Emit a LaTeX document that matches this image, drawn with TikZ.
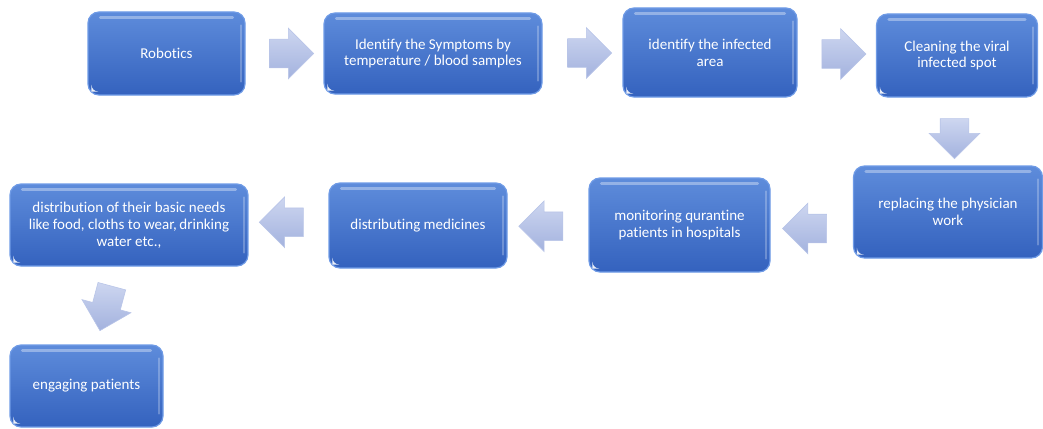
\documentclass[tikz,border=0pt]{standalone}
\usepackage{fontspec}
\setmainfont{Carlito}[Ligatures=NoCommon]
\usetikzlibrary{shapes.arrows,calc}
\definecolor{boxtop}{HTML}{5E8CDB}
\definecolor{boxmid}{HTML}{4674CA}
\definecolor{boxbot}{HTML}{3462BE}
\definecolor{boxrim}{HTML}{6F9BE6}
\definecolor{arrtop}{HTML}{CDD6F0}
\definecolor{arrbot}{HTML}{A3B2DE}
\definecolor{arredge}{HTML}{B9C5E8}
\tikzset{
  box/.style={rounded corners=11pt, draw=boxrim, line width=1.2pt,
    top color=boxtop, middle color=boxmid, bottom color=boxbot,
    text=white, align=center, inner sep=0pt,
    font=\fontsize{15}{16.8}\selectfont},
  blockarrow/.style={single arrow, single arrow head extend=11pt,
    inner xsep=0pt, inner ysep=14pt, minimum height=44pt,
    draw=arredge, line width=0.6pt, top color=arrtop, bottom color=arrbot}
}
\begin{document}
\begin{tikzpicture}[x=1pt,y=-1pt]
\useasboundingbox (0,0) rectangle (1043,428);
\node[box, minimum width=157pt, minimum height=83pt] (b1) at (166.5,53.5) {Robotics};
\node[box, minimum width=218pt, minimum height=81pt] (b2) at (433,53.5) {Identify the Symptoms by\\temperature / blood samples};
\node[box, minimum width=174pt, minimum height=89pt] (b3) at (710,52.5) {identify the infected\\area};
\node[box, minimum width=161pt, minimum height=83pt] (b4) at (957,55.5) {Cleaning the viral\\infected spot};
\node[box, minimum width=189pt, minimum height=92pt] (b5) at (948,212) {replacing the physician\\work};
\node[box, minimum width=181pt, minimum height=94pt] (b6) at (679.5,225) {monitoring qurantine\\patients in hospitals};
\node[box, minimum width=178pt, minimum height=85pt] (b7) at (418,225.5) {distributing medicines};
\node[box, minimum width=238pt, minimum height=82pt] (b8) at (129,225) {distribution of their basic needs\\like food, cloths to wear,\,drinking\\water etc.,};
\node[box, minimum width=153pt, minimum height=82pt] (b9) at (86.5,386) {engaging patients};
% glossy highlights and corner marks
\foreach \n in {b1,b2,b3,b4,b5,b6,b7,b8,b9}{
  \draw[white, opacity=0.35, line width=3pt, line cap=round]
    ($(\n.north west)+(13,6)$) -- ($(\n.north east)+(-13,6)$);
  \draw[white, opacity=0.25, line width=2pt, line cap=round]
    ($(\n.north east)+(-5,14)$) -- ($(\n.south east)+(-5,-14)$);
  \fill[white, opacity=0.9] ($(\n.south west)+(4,-4)$) -- ++(0,-7) arc[start angle=180, end angle=270, radius=7pt] -- cycle;
}
% connectors
\node[blockarrow] (a1) at ($(b1.east)!0.5!(b2.west)$) {};
\node[blockarrow] (a2) at ($(b2.east)!0.5!(b3.west)$) {};
\node[blockarrow] (a3) at ($(b3.east)!0.5!(b4.west)$) {};
\node[blockarrow, rotate=-90, minimum height=40pt] (a4) at ($(b4.south)!0.5!(b5.north)+(2,0)$) {};
\node[blockarrow, rotate=180] (a5) at ($(b5.west)!0.5!(b6.east)+(0,10)$) {};
\node[blockarrow, rotate=180] (a6) at ($(b6.west)!0.5!(b7.east)+(0,1)$) {};
\node[blockarrow, rotate=180] (a7) at ($(b7.west)!0.5!(b8.east)+(0,-3)$) {};
\node[blockarrow, rotate=-105, minimum height=46pt] (a8) at ($(b8.south)!0.5!(b9.north)+(0,-4)$) {};
\end{tikzpicture}
\end{document}
